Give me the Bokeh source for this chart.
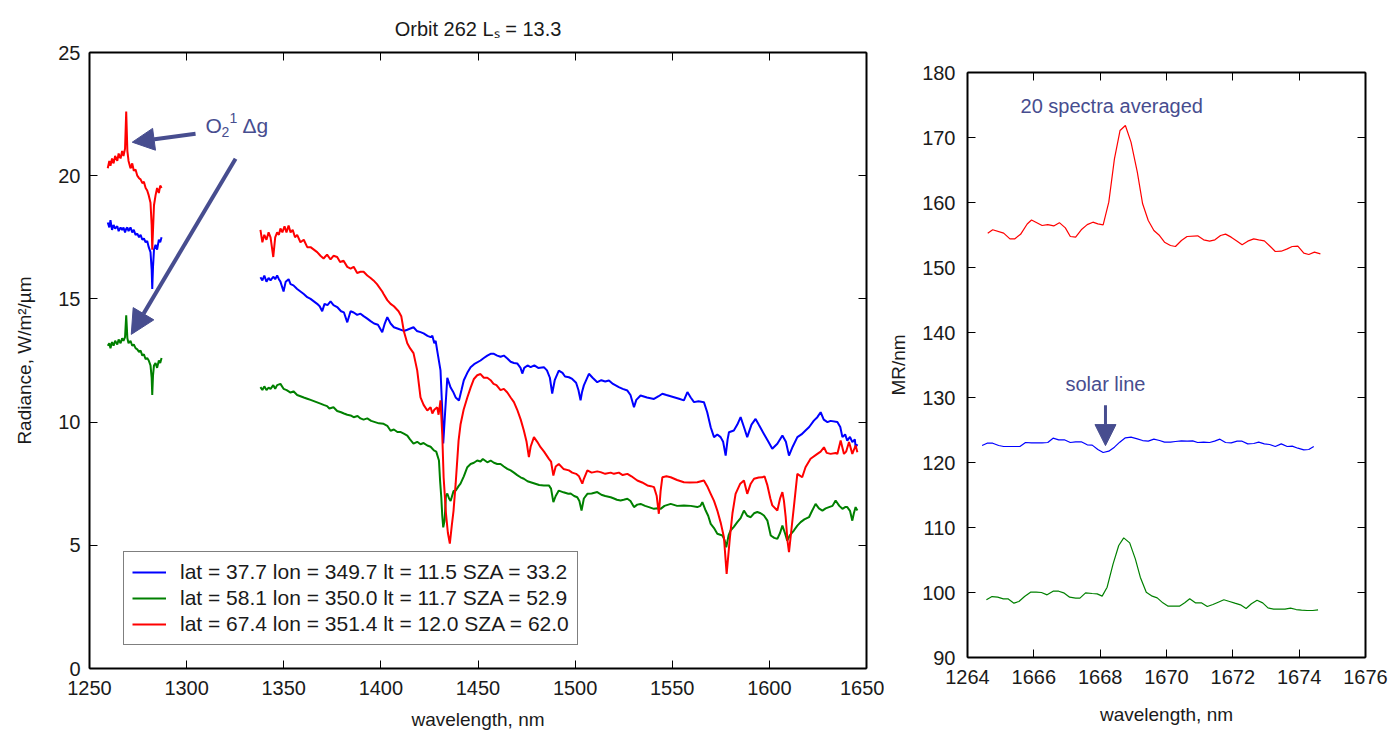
import math
from bokeh.plotting import figure
from bokeh.layouts import row
from bokeh.models import (Label, Arrow, NormalHead, Legend, LegendItem, LinearAxis,
                          FixedTicker, CustomJSTickFormatter, Range1d)
from bokeh.embed import file_html
from bokeh.resources import INLINE

# ---------------- data: left panel ----------------
WL1 = [1259.4, 1260.2, 1260.8, 1261.6, 1262.4, 1263.2, 1264.3, 1265.0, 1266.0, 1266.8,
       1267.5, 1268.3, 1268.9, 1269.5, 1270.1, 1271.1, 1272.0, 1272.8, 1273.7, 1274.6,
       1275.5, 1276.3, 1277.2, 1278.0, 1278.9, 1279.7, 1280.5, 1281.4, 1282.0, 1282.3,
       1282.7, 1283.2, 1284.0, 1284.8, 1285.7, 1286.4, 1287.1]
RED1 = [20.3, 20.6, 20.4, 20.7, 20.5, 20.8, 20.6, 20.9, 20.7, 21.0,
        20.8, 21.1, 22.6, 21.0, 20.6, 20.3, 20.5, 20.2, 20.25, 20.0,
        19.9, 19.85, 19.7, 19.75, 19.5, 19.4, 19.2, 18.9, 18.0, 17.0,
        17.8, 18.8, 19.2, 19.5, 19.3, 19.6, 19.5]
BLUE1 = [18.1, 17.9, 18.2, 17.8, 18.0, 17.85, 17.95, 17.75, 17.9, 17.8,
         17.9, 17.7, 17.85, 17.9, 17.75, 17.9, 17.7, 17.8, 17.6, 17.65,
         17.5, 17.6, 17.4, 17.45, 17.3, 17.35, 17.1, 16.9, 16.2, 15.4,
         16.3, 17.0, 17.2, 17.0, 17.4, 17.3, 17.5]
GREEN1 = [13.1, 13.2, 13.0, 13.25, 13.1, 13.3, 13.15, 13.35, 13.2, 13.4,
          13.3, 13.45, 14.33, 13.4, 13.2, 13.3, 13.1, 13.15, 13.0, 12.95,
          12.85, 12.9, 12.7, 12.75, 12.55, 12.6, 12.5, 12.3, 11.8, 11.1,
          11.9, 12.3, 12.4, 12.2, 12.5, 12.4, 12.6]

RED2_WL = [1338.0, 1339.0, 1340.0, 1341.1, 1342.2, 1343.2, 1344.6, 1345.6, 1346.6, 1347.5,
           1348.3, 1349.3, 1350.4, 1351.4, 1352.5, 1353.5, 1354.6, 1355.8, 1356.9, 1358.6,
           1360.3, 1362.1, 1363.8, 1365.5, 1367.2, 1368.9, 1370.5, 1372.3, 1374.1, 1375.6,
           1377.5, 1379.0, 1380.8, 1382.7, 1384.4, 1386.0, 1387.8, 1389.5, 1391.1, 1393.0,
           1394.7, 1396.2, 1398.0, 1400.7, 1401.4, 1403.3, 1405.0, 1406.7, 1409.1, 1410.5,
           1411.8, 1413.6, 1415.0, 1416.8, 1418.7, 1420.4, 1422.0, 1423.9, 1425.6, 1426.5,
           1427.5, 1429.0, 1429.7, 1430.7, 1431.6, 1432.3, 1433.5, 1434.5, 1435.5, 1436.5,
           1437.4, 1438.5, 1440.0, 1441.0, 1442.6, 1444.5, 1446.2, 1447.9, 1449.6, 1451.3,
           1453.0, 1454.8, 1456.5, 1458.0, 1459.5, 1461.6, 1463.3, 1465.1, 1466.8, 1468.5,
           1470.2, 1472.0, 1473.6, 1475.0, 1476.2, 1477.1, 1478.8, 1480.5, 1482.2, 1484.0,
           1486.5, 1487.6, 1488.8, 1490.0, 1491.6, 1494.0, 1496.8, 1498.5, 1500.5, 1502.0,
           1503.7, 1504.5, 1506.3, 1508.5, 1511.4, 1513.1, 1515.5, 1518.3, 1520.0, 1522.5,
           1524.5, 1526.9, 1529.0, 1532.0, 1534.5, 1537.2, 1539.0, 1540.6, 1542.0, 1543.1,
           1544.0, 1544.9, 1547.0, 1549.2, 1552.5, 1556.0, 1559.0, 1562.9, 1566.3, 1568.0,
           1569.8, 1571.5, 1573.2, 1575.0, 1576.6, 1578.0, 1579.7, 1581.0, 1582.6, 1585.0,
           1586.9, 1588.6, 1590.4, 1592.1, 1594.5, 1596.4, 1597.5, 1599.0, 1600.5, 1601.5,
           1604.1, 1605.5, 1606.7, 1607.5, 1608.4, 1609.3, 1610.1, 1611.3, 1612.6, 1614.4,
           1616.9, 1618.6, 1621.2, 1624.7, 1626.4, 1628.1, 1629.5, 1631.5, 1634.1, 1635.0,
           1636.7, 1638.4, 1639.5, 1641.0, 1642.7, 1644.4, 1645.3]
RED2 = [17.8, 17.3, 17.6, 17.4, 17.7, 17.5, 16.7, 17.5, 17.7, 17.6,
        17.86, 17.7, 17.95, 17.7, 17.98, 17.7, 17.8, 17.5, 17.6, 17.3,
        17.4, 17.1, 17.1, 17.0, 16.9, 16.75, 16.64, 16.8, 16.6, 16.75,
        16.7, 16.5, 16.55, 16.3, 16.23, 16.3, 16.05, 16.1, 16.1, 15.95,
        15.85, 15.75, 15.6, 15.3, 15.2, 14.95, 14.8, 14.7, 14.5, 14.3,
        13.7, 13.2, 13.0, 12.8, 12.1, 11.0, 10.7, 10.47, 10.6, 10.35,
        10.5, 10.6, 10.3, 10.88, 9.5, 7.76, 6.3, 5.5, 5.07, 5.8,
        6.4, 7.5, 9.25, 9.9, 10.5, 11.0, 11.4, 11.75, 11.9, 11.95,
        11.8, 11.8, 11.7, 11.55, 11.5, 11.3, 11.35, 11.2, 11.0, 10.81,
        10.5, 10.1, 9.66, 9.2, 8.58, 9.0, 9.39, 9.2, 8.98, 8.8,
        8.51, 8.4, 7.83, 8.2, 8.3, 8.1, 8.04, 7.95, 7.9, 7.8,
        7.5, 7.7, 8.04, 7.95, 8.0, 7.97, 7.9, 7.95, 7.9, 7.95,
        7.85, 7.9, 7.8, 7.63, 7.55, 7.43, 7.4, 7.36, 7.0, 6.28,
        7.2, 7.76, 7.8, 7.76, 7.65, 7.56, 7.55, 7.56, 7.63, 7.4,
        7.09, 6.8, 6.41, 5.9, 5.33, 3.84, 5.33, 6.3, 7.09, 7.5,
        7.63, 7.09, 7.5, 7.7, 7.75, 7.76, 7.8, 7.43, 6.9, 6.62,
        6.41, 6.9, 7.16, 6.8, 6.14, 5.2, 4.72, 5.6, 6.55, 7.9,
        7.76, 8.17, 8.51, 8.71, 8.8, 8.98, 8.75, 8.71, 8.75, 8.71,
        9.25, 8.71, 8.8, 9.19, 8.71, 9.05, 8.78]

BLUE2_WL = [1338.0, 1339.0, 1340.0, 1341.1, 1342.2, 1343.2, 1344.6, 1345.6, 1346.6, 1347.5,
            1348.3, 1349.9, 1351.0, 1352.5, 1353.5, 1355.0, 1356.9, 1358.6, 1360.3, 1362.1,
            1363.8, 1365.5, 1367.2, 1368.5, 1369.8, 1371.0, 1372.5, 1374.1, 1375.6, 1377.5,
            1379.5, 1381.0, 1382.7, 1384.4, 1386.0, 1387.8, 1389.5, 1391.1, 1393.0, 1394.7,
            1396.5, 1398.5, 1400.7, 1402.0, 1403.3, 1405.0, 1406.7, 1408.5, 1411.8, 1413.6,
            1416.8, 1418.5, 1420.4, 1422.0, 1424.0, 1425.6, 1426.5, 1427.5, 1428.2, 1429.0,
            1430.7, 1431.6, 1432.1, 1433.0, 1434.2, 1435.9, 1437.4, 1438.5, 1440.2, 1441.5,
            1442.7, 1444.5, 1446.2, 1448.0, 1451.3, 1453.0, 1454.8, 1456.5, 1458.2, 1459.9,
            1461.6, 1463.3, 1465.1, 1466.8, 1468.5, 1470.2, 1471.9, 1472.8, 1473.8, 1475.5,
            1477.1, 1479.0, 1481.0, 1483.9, 1485.5, 1487.0, 1488.2, 1489.5, 1491.6, 1493.5,
            1494.8, 1496.8, 1498.5, 1500.5, 1501.7, 1502.8, 1503.5, 1504.5, 1507.1, 1509.0,
            1511.4, 1513.5, 1515.5, 1517.4, 1519.5, 1522.5, 1524.5, 1526.9, 1528.5, 1530.3,
            1531.5, 1533.7, 1537.0, 1540.6, 1543.0, 1544.9, 1547.0, 1550.9, 1553.5, 1556.0,
            1557.8, 1559.5, 1561.2, 1563.5, 1566.3, 1568.0, 1569.8, 1571.5, 1573.2, 1574.9,
            1576.2, 1577.5, 1578.5, 1579.2, 1581.7, 1583.5, 1585.2, 1586.9, 1588.6, 1590.8,
            1592.9, 1594.5, 1597.2, 1599.5, 1601.5, 1604.1, 1606.7, 1608.5, 1610.1, 1612.0,
            1614.4, 1616.5, 1618.6, 1620.5, 1622.9, 1624.7, 1626.4, 1628.0, 1629.9, 1631.5,
            1635.0, 1636.5, 1637.6, 1639.0, 1640.1, 1641.5, 1642.7, 1644.0, 1644.4, 1645.3]
BLUE2 = [15.88, 15.75, 15.95, 15.7, 15.85, 15.75, 15.9, 15.8, 15.95, 15.8,
         15.7, 15.3, 15.7, 15.8, 15.6, 15.55, 15.4, 15.3, 15.2, 15.07,
         15.0, 14.9, 14.8, 14.7, 14.5, 14.8, 14.75, 14.9, 14.75, 14.67,
         14.5, 14.45, 14.05, 14.5, 14.45, 14.35, 14.4, 14.3, 14.2, 14.1,
         14.0, 13.95, 13.65, 14.0, 14.26, 14.0, 13.85, 13.8, 13.7, 13.75,
         13.85, 13.7, 13.65, 13.6, 13.5, 13.45, 13.5, 13.2, 13.3, 12.9,
         12.1, 10.47, 9.13, 10.3, 11.8, 11.4, 11.2, 11.0, 10.88, 11.3,
         11.7, 12.0, 12.23, 12.35, 12.5, 12.6, 12.7, 12.77, 12.77, 12.7,
         12.65, 12.7, 12.58, 12.45, 12.4, 12.38, 12.2, 11.97, 12.2, 12.3,
         12.23, 12.3, 12.2, 12.23, 12.1, 11.8, 11.16, 11.7, 12.09, 12.0,
         11.85, 11.82, 11.75, 11.6, 11.3, 10.88, 11.2, 11.49, 11.96, 11.8,
         11.62, 11.7, 11.65, 11.69, 11.55, 11.42, 11.35, 11.28, 11.1, 10.6,
         10.9, 11.08, 11.0, 10.94, 11.05, 11.15, 11.1, 11.01, 10.95, 10.88,
         11.22, 11.0, 10.81, 10.85, 10.81, 10.4, 9.79, 9.39, 9.5, 9.39,
         9.2, 8.64, 9.3, 9.59, 9.66, 9.9, 10.2, 9.8, 9.39, 9.9,
         10.13, 9.9, 9.52, 9.2, 8.92, 9.12, 9.46, 9.2, 8.64, 9.0,
         9.39, 9.5, 9.66, 9.8, 10.06, 10.2, 10.4, 10.1, 10.0, 10.05,
         10.0, 9.8, 9.39, 9.5, 9.25, 9.4, 9.19, 9.3, 8.98, 9.1]

GREEN2_WL = [1338.0, 1339.0, 1340.0, 1341.1, 1342.2, 1343.2, 1344.6, 1345.6, 1346.6, 1348.3,
             1349.9, 1351.5, 1353.5, 1355.0, 1356.9, 1358.6, 1360.3, 1362.1, 1363.8, 1365.5,
             1367.2, 1368.9, 1370.5, 1372.3, 1373.5, 1375.6, 1377.5, 1379.5, 1381.0, 1382.7,
             1384.4, 1386.0, 1388.0, 1389.5, 1391.1, 1393.0, 1395.0, 1397.0, 1399.0, 1401.4,
             1403.3, 1405.0, 1406.7, 1408.5, 1410.0, 1411.8, 1413.6, 1415.0, 1416.8, 1418.7,
             1420.4, 1422.0, 1423.9, 1425.6, 1427.3, 1428.5, 1429.9, 1430.5, 1431.1, 1431.6,
             1432.1, 1432.8, 1433.5, 1434.2, 1435.1, 1435.9, 1437.4, 1438.5, 1440.0, 1441.0,
             1442.7, 1444.5, 1446.2, 1447.9, 1449.6, 1451.3, 1452.5, 1454.8, 1456.5, 1458.2,
             1459.9, 1461.6, 1463.3, 1465.1, 1466.8, 1468.5, 1470.2, 1471.9, 1473.6, 1475.5,
             1477.1, 1479.5, 1481.5, 1483.9, 1486.5, 1487.6, 1488.8, 1490.0, 1491.6, 1494.0,
             1496.5, 1497.7, 1499.5, 1501.1, 1502.2, 1503.3, 1504.5, 1506.3, 1508.5, 1511.4,
             1513.5, 1515.5, 1518.3, 1520.0, 1521.5, 1523.4, 1525.0, 1526.9, 1528.5, 1530.3,
             1532.0, 1533.7, 1536.0, 1538.0, 1540.6, 1542.5, 1544.0, 1546.0, 1549.2, 1552.5,
             1556.0, 1559.5, 1562.9, 1564.5, 1565.5, 1567.2, 1568.5, 1569.8, 1571.5, 1573.2,
             1575.8, 1577.0, 1577.8, 1579.0, 1580.0, 1581.7, 1583.5, 1585.2, 1586.9, 1588.6,
             1590.4, 1592.1, 1593.8, 1595.5, 1597.2, 1599.0, 1600.7, 1602.5, 1604.1, 1605.5,
             1606.7, 1608.0, 1609.2, 1610.5, 1612.6, 1614.4, 1616.1, 1618.0, 1620.4, 1622.0,
             1623.8, 1625.5, 1627.3, 1629.0, 1630.7, 1632.5, 1634.1, 1636.0, 1637.6, 1639.0,
             1640.1, 1641.5, 1642.7, 1643.5, 1644.4, 1645.3]
GREEN2 = [11.42, 11.3, 11.45, 11.3, 11.4, 11.35, 11.5, 11.35, 11.5, 11.55,
          11.35, 11.3, 11.2, 11.25, 11.1, 11.05, 11.0, 10.95, 10.9, 10.85,
          10.8, 10.75, 10.7, 10.65, 10.55, 10.6, 10.45, 10.4, 10.35, 10.3,
          10.27, 10.2, 10.25, 10.15, 10.1, 10.15, 10.05, 10.0, 9.95, 9.93,
          9.85, 9.65, 9.7, 9.6, 9.6, 9.53, 9.45, 9.3, 9.13, 9.2,
          9.1, 9.15, 9.05, 9.0, 8.85, 8.8, 8.44, 7.6, 6.95, 6.2,
          5.73, 6.0, 7.0, 7.1, 6.9, 6.8, 7.2, 7.22, 7.4, 7.5,
          7.8, 8.17, 8.3, 8.35, 8.44, 8.4, 8.5, 8.37, 8.44, 8.35,
          8.3, 8.3, 8.2, 8.1, 8.04, 7.95, 7.85, 7.76, 7.7, 7.6,
          7.56, 7.5, 7.45, 7.43, 7.43, 7.3, 6.75, 7.0, 7.22, 7.15,
          7.09, 7.1, 7.0, 6.95, 6.8, 6.41, 6.9, 7.09, 7.1, 7.16,
          7.05, 7.0, 6.95, 6.9, 6.85, 6.82, 6.85, 6.89, 6.8, 6.55,
          6.65, 6.68, 6.6, 6.55, 6.48, 6.5, 6.48, 6.6, 6.68, 6.6,
          6.62, 6.6, 6.55, 6.6, 6.75, 6.41, 6.2, 5.87, 5.7, 5.47,
          5.4, 5.2, 4.92, 5.4, 5.6, 5.75, 5.94, 6.1, 6.41, 6.2,
          6.14, 6.3, 6.35, 6.3, 6.21, 6.0, 5.4, 5.3, 5.26, 5.5,
          5.8, 5.5, 5.19, 5.4, 5.6, 5.8, 5.94, 6.05, 6.14, 6.4,
          6.68, 6.5, 6.41, 6.5, 6.55, 6.6, 6.82, 6.6, 6.48, 6.55,
          6.55, 6.4, 6.0, 6.3, 6.55, 6.41]

LEGEND_LABELS = ["lat = 37.7 lon = 349.7 lt = 11.5 SZA = 33.2",
                 "lat = 58.1 lon = 350.0 lt = 11.7 SZA = 52.9",
                 "lat = 67.4 lon = 351.4 lt = 12.0 SZA = 62.0"]
TITLE = "Orbit 262 L\u209b = 13.3"
X1_TICKS = [1250, 1300, 1350, 1400, 1450, 1500, 1550, 1600, 1650]
Y1_TICKS = [0, 5, 10, 15, 20, 25]

# ---------------- data: right panel ----------------
RP_RED_WL = [1664.61, 1664.76, 1665.09, 1665.28, 1665.42, 1665.6, 1665.8, 1665.93, 1666.25, 1666.42,
             1666.6, 1666.77, 1666.95, 1667.1, 1667.26, 1667.43, 1667.61, 1667.78, 1667.93, 1668.09,
             1668.26, 1668.43, 1668.6, 1668.76, 1668.93, 1669.12, 1669.28, 1669.45, 1669.62, 1669.79,
             1669.94, 1670.12, 1670.27, 1670.45, 1670.62, 1670.94, 1671.12, 1671.3, 1671.46, 1671.63,
             1671.78, 1671.95, 1672.13, 1672.28, 1672.45, 1672.63, 1672.78, 1672.95, 1673.13, 1673.28,
             1673.46, 1673.64, 1673.79, 1673.96, 1674.14, 1674.29, 1674.46, 1674.64]
RP_RED = [155.28, 155.8, 155.28, 154.4, 154.4, 155.1, 156.7, 157.3, 156.46, 156.6,
          156.4, 156.9, 156.1, 154.77, 154.67, 155.8, 156.6, 156.97, 156.72, 156.56,
          160.05, 166.72, 171.08, 171.85, 169.28, 164.67, 159.8, 157.23, 155.7, 154.92,
          153.9, 153.38, 153.23, 154.15, 154.77, 154.87, 154.26, 154.05, 154.26, 154.92,
          155.13, 154.67, 154.05, 153.49, 154.05, 154.41, 154.26, 154.1, 153.23, 152.46,
          152.51, 152.87, 153.23, 153.28, 152.2, 152.0, 152.36, 152.1]
RP_BLUE_WL = [1664.44, 1664.59, 1664.76, 1664.94, 1665.09, 1665.3, 1665.58, 1665.75, 1665.93, 1666.25,
              1666.42, 1666.58, 1666.75, 1666.92, 1667.1, 1667.26, 1667.43, 1667.61, 1667.76, 1667.93,
              1668.09, 1668.26, 1668.43, 1668.59, 1668.76, 1668.93, 1669.12, 1669.28, 1669.45, 1669.62,
              1669.79, 1669.94, 1670.12, 1670.27, 1670.45, 1670.62, 1670.79, 1670.94, 1671.12, 1671.3,
              1671.45, 1671.61, 1671.78, 1671.95, 1672.13, 1672.28, 1672.45, 1672.63, 1672.78, 1672.95,
              1673.11, 1673.28, 1673.46, 1673.64, 1673.79, 1673.96, 1674.14, 1674.29, 1674.44]
RP_BLUE = [122.62, 122.97, 122.97, 122.62, 122.46, 122.46, 122.46, 123.08, 123.03, 123.03,
           123.08, 123.74, 123.49, 123.49, 123.08, 123.18, 123.18, 122.72, 122.67, 122.0,
           121.54, 121.74, 122.36, 123.13, 123.8, 123.9, 123.64, 123.38, 123.28, 123.59,
           123.38, 123.13, 123.13, 123.23, 123.33, 123.28, 123.33, 123.08, 123.13, 123.08,
           123.28, 123.59, 123.08, 123.03, 123.28, 123.28, 122.87, 122.92, 123.13, 122.87,
           122.77, 122.46, 122.87, 122.46, 122.51, 122.2, 121.95, 122.0, 122.46]
RP_GREEN_WL = [1664.57, 1664.74, 1664.91, 1665.08, 1665.22, 1665.4, 1665.55, 1665.72, 1665.9, 1666.07,
               1666.23, 1666.4, 1666.58, 1666.75, 1666.9, 1667.08, 1667.26, 1667.39, 1667.56, 1667.76,
               1667.91, 1668.06, 1668.21, 1668.39, 1668.56, 1668.71, 1668.89, 1669.06, 1669.21, 1669.39,
               1669.57, 1669.72, 1669.89, 1670.05, 1670.22, 1670.39, 1670.55, 1670.7, 1670.87, 1671.05,
               1671.23, 1671.4, 1671.56, 1671.73, 1671.9, 1672.06, 1672.23, 1672.4, 1672.56, 1672.73,
               1672.9, 1673.06, 1673.23, 1673.41, 1673.57, 1673.74, 1673.91, 1674.07, 1674.24, 1674.41,
               1674.57]
RP_GREEN = [98.88, 99.38, 99.28, 99.03, 99.03, 98.36, 98.62, 99.38, 100.05, 100.05,
            100.0, 99.64, 100.2, 100.2, 99.95, 99.28, 99.13, 99.13, 99.95, 99.85,
            99.79, 99.44, 100.82, 104.41, 107.23, 108.41, 107.64, 105.18, 102.36, 100.05,
            99.44, 99.18, 98.41, 97.9, 97.9, 97.9, 98.41, 99.03, 98.41, 98.41,
            97.85, 98.15, 98.51, 98.88, 98.62, 98.36, 98.1, 97.54, 98.26, 98.82,
            98.41, 97.64, 97.44, 97.44, 97.44, 97.59, 97.38, 97.28, 97.23, 97.23,
            97.33]
X2_TICKS = [1664, 1666, 1668, 1670, 1672, 1674, 1676]
X2_TICK_LABELS = ["1264", "1666", "1668", "1670", "1672", "1674", "1676"]
Y2_TICKS = [90, 100, 110, 120, 130, 140, 150, 160, 170, 180]

# ---------------- styling ----------------
FONT = "Liberation Sans"
TXT = "#1a1a1a"
ANN = "#474d8f"
C_BLUE, C_GREEN, C_RED = "#0000ff", "#008000", "#ff0000"


def style_axis(ax, ticks, labels=True, standoff=10):
    ax.ticker = FixedTicker(ticks=ticks)
    ax.major_tick_in = 8
    ax.major_tick_out = 0
    ax.major_tick_line_color = "black"
    ax.major_tick_line_width = 1
    ax.minor_tick_line_color = None
    ax.axis_line_color = "black"
    ax.axis_line_width = 2
    ax.major_label_text_font = FONT
    ax.major_label_text_font_size = "20px"
    ax.major_label_text_color = TXT
    ax.major_label_standoff = standoff
    ax.axis_label_text_font = FONT
    ax.axis_label_text_font_size = "19px"
    ax.axis_label_text_font_style = "normal"
    ax.axis_label_text_color = TXT
    if not labels:
        ax.formatter = CustomJSTickFormatter(code="return ''")
        ax.major_label_standoff = 0


def seg(a, b):
    return list(a) + [math.nan] + list(b)


# ---------------- left figure ----------------
p1 = figure(width=884, height=736, x_range=Range1d(1250, 1650), y_range=Range1d(0, 25),
            output_backend="svg", toolbar_location=None,
            min_border_left=89, min_border_right=18, min_border_top=52, min_border_bottom=68)
p1.frame_align = False
p1.grid.visible = False
p1.outline_line_color = None
p1.background_fill_color = "white"
p1.border_fill_color = "white"
p1.title.text = TITLE
p1.title.align = "center"
p1.title.text_font = FONT
p1.title.text_font_size = "20px"
p1.title.text_font_style = "normal"
p1.title.text_color = TXT
p1.title.standoff = 26

xa1 = p1.below[0]
ya1 = p1.left[0]
style_axis(xa1, X1_TICKS, standoff=12)
style_axis(ya1, Y1_TICKS, standoff=9)
xa1.axis_label = "wavelength, nm"
xa1.axis_label_standoff = 11
ya1.axis_label = "Radiance, W/m²/µm"
ya1.axis_label_standoff = 20

top1 = LinearAxis()
style_axis(top1, X1_TICKS, labels=False)
p1.add_layout(top1, "above")
right1 = LinearAxis()
style_axis(right1, Y1_TICKS, labels=False)
p1.add_layout(right1, "right")

rb = p1.line(seg(WL1, BLUE2_WL), seg(BLUE1, BLUE2), line_color=C_BLUE, line_width=2)
rg = p1.line(seg(WL1, GREEN2_WL), seg(GREEN1, GREEN2), line_color=C_GREEN, line_width=2)
rr = p1.line(seg(WL1, RED2_WL), seg(RED1, RED2), line_color=C_RED, line_width=2)

legend = Legend(items=[LegendItem(label=LEGEND_LABELS[0], renderers=[rb]),
                       LegendItem(label=LEGEND_LABELS[1], renderers=[rg]),
                       LegendItem(label=LEGEND_LABELS[2], renderers=[rr])],
                location=(34, 23))
legend.label_text_font = FONT
legend.label_text_font_size = "21px"
legend.label_text_color = TXT
legend.glyph_width = 34
legend.glyph_height = 20
legend.label_height = 20
legend.label_standoff = 14
legend.padding = 8
legend.spacing = 2
legend.margin = 0
legend.border_line_color = "black"
legend.border_line_width = 1.5
legend.background_fill_alpha = 1.0
p1.add_layout(legend)

# O2 1Δg annotation
ox, oy = 1309.7, 22.04
p1.add_layout(Label(x=ox, y=oy, text="O", text_align="left", text_baseline="middle",
                    text_font=FONT, text_font_size="21px", text_color=ANN))
p1.add_layout(Label(x=ox, y=oy, x_offset=16, y_offset=-7, text="2", text_align="left",
                    text_baseline="middle", text_font=FONT, text_font_size="14px", text_color=ANN))
p1.add_layout(Label(x=ox, y=oy, x_offset=24, y_offset=7, text="1", text_align="left",
                    text_baseline="middle", text_font=FONT, text_font_size="14px", text_color=ANN))
p1.add_layout(Label(x=ox, y=oy, x_offset=37, text="Δg", text_align="left",
                    text_baseline="middle", text_font=FONT, text_font_size="21px", text_color=ANN))
p1.add_layout(Arrow(end=NormalHead(size=22, fill_color=ANN, line_color=ANN),
                    x_start=1304.6, y_start=21.7, x_end=1272.0, y_end=21.36,
                    line_color=ANN, line_width=4))
p1.add_layout(Arrow(end=NormalHead(size=24, fill_color=ANN, line_color=ANN),
                    x_start=1325.2, y_start=20.69, x_end=1271.5, y_end=13.56,
                    line_color=ANN, line_width=4))

# ---------------- right figure ----------------
p2 = figure(width=505, height=736, x_range=Range1d(1664, 1676), y_range=Range1d(90, 180),
            output_backend="svg", toolbar_location=None,
            min_border_left=83, min_border_right=24, min_border_top=72, min_border_bottom=79)
p2.frame_align = False
p2.grid.visible = False
p2.outline_line_color = None
p2.background_fill_color = "white"
p2.border_fill_color = "white"

xa2 = p2.below[0]
ya2 = p2.left[0]
style_axis(xa2, X2_TICKS, standoff=12)
style_axis(ya2, Y2_TICKS, standoff=12)
xa2.major_label_overrides = {t: l for t, l in zip(X2_TICKS, X2_TICK_LABELS)}
xa2.axis_label = "wavelength, nm"
xa2.axis_label_standoff = 17
ya2.axis_label = "MR/nm"
ya2.axis_label_standoff = 10

top2 = LinearAxis()
style_axis(top2, X2_TICKS, labels=False)
p2.add_layout(top2, "above")
right2 = LinearAxis()
style_axis(right2, Y2_TICKS, labels=False)
p2.add_layout(right2, "right")

p2.line(RP_RED_WL, RP_RED, line_color=C_RED, line_width=1.2)
p2.line(RP_BLUE_WL, RP_BLUE, line_color=C_BLUE, line_width=1.2)
p2.line(RP_GREEN_WL, RP_GREEN, line_color=C_GREEN, line_width=1.2)

p2.add_layout(Label(x=1665.6, y=174.9, text="20 spectra averaged", text_align="left",
                    text_baseline="middle", text_font=FONT, text_font_size="20px",
                    text_color=ANN))
p2.add_layout(Label(x=1668.16, y=132.15, text="solar line", text_align="center",
                    text_baseline="middle", text_font=FONT, text_font_size="20px",
                    text_color=ANN))
p2.add_layout(Arrow(end=NormalHead(size=21, fill_color=ANN, line_color=ANN),
                    x_start=1668.16, y_start=128.8, x_end=1668.16, y_end=122.6,
                    line_color=ANN, line_width=3))

layout = row(p1, p2)
open("out.html", "w").write(file_html(layout, INLINE))
